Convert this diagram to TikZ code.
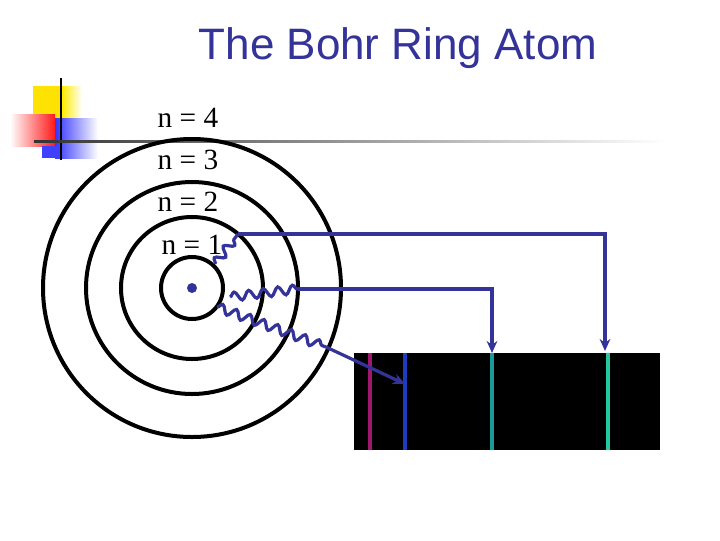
\documentclass[tikz,border=0pt]{standalone}
\usepackage{fontspec}
\setmainfont{Liberation Serif}
\setsansfont{Liberation Sans}
\usetikzlibrary{decorations.pathmorphing,arrows.meta}
\definecolor{ink}{HTML}{333399}
\definecolor{lmag}{HTML}{A0186E}
\definecolor{lblue}{HTML}{1E3CC0}
\definecolor{lteal}{HTML}{1A9A9A}
\definecolor{lgreen}{HTML}{22C8A0}
\begin{document}
\begin{tikzpicture}[x=0.75pt,y=-0.75pt,
  orbit/.style={draw=black,line width=3pt},
  lbl/.style={font=\fontsize{22}{22}\selectfont,inner sep=0pt},
  photon/.style={draw=ink,line width=2.4pt,decorate,decoration={snake,amplitude=3.3pt,segment length=11pt}},
  ray/.style={draw=ink,line width=2.4pt,-{Stealth[length=9pt,width=8pt]}},
  sline/.style={line width=3pt}]
\useasboundingbox (0,0) rectangle (720,540);
% logo
\fill[yellow!85!orange] (33,86) rectangle (62,118);
\shade[left color=yellow!85!orange,right color=white] (62,86) rectangle (82,118);
\fill[blue!75!black!80] (42,118) rectangle (62,148);
\shade[left color=blue!80,right color=white] (55,118) rectangle (98,158);
\shade[left color=white,right color=red!90] (10,114) rectangle (55,146);
\fill[blue!75] (42,146) rectangle (62,158);
\draw[line width=2pt] (61,78) -- (61,160);
\shade[left color=black!80,right color=white] (34,140) rectangle (665,142.5);
% title
\node[font=\sffamily\fontsize{33}{33}\selectfont,text=ink] (title) at (398,48) {The Bohr Ring Atom};
% orbits
\draw[orbit] (192,288) circle (149);
\draw[orbit] (192,288) circle (106);
\draw[orbit] (192,288) circle (71);
\draw[orbit] (192,288) circle (31);
\fill[ink] (192,288) circle (5);
\node[lbl] (n4) at (188,118) {n = 4};
\node[lbl] (n3) at (188,160) {n = 3};
\node[lbl] (n2) at (188,202) {n = 2};
\node[lbl] (n1) at (192,245) {n = 1};
% spectrum
\fill[black] (354,353) rectangle (660,450);
\draw[sline,draw=lmag] (370,353) -- (370,450);
\draw[sline,draw=lblue] (405,353) -- (405,450);
\draw[sline,draw=lteal] (492,353) -- (492,450);
\draw[sline,draw=lgreen] (608,353) -- (608,450);
% coordinates
\coordinate (a0) at (215,264);
\coordinate (a1) at (238,234);
\coordinate (a2) at (605,234);
\coordinate (a3) at (605,351);
\coordinate (b0) at (230,297);
\coordinate (b1) at (298,289);
\coordinate (b2) at (492,289);
\coordinate (b3) at (492,353);
\coordinate (c0) at (217,307);
\coordinate (c1) at (326,347);
\coordinate (c2) at (405,384);
\draw[photon] (a0) -- (a1);
\draw[ray] (a1) -- (a2) -- (a3);
\draw[photon] (b0) -- (b1);
\draw[ray] (b1) -- (b2) -- (b3);
\draw[photon] (c0) -- (c1);
\draw[ray] (c1) -- (c2);
\end{tikzpicture}
\end{document}
